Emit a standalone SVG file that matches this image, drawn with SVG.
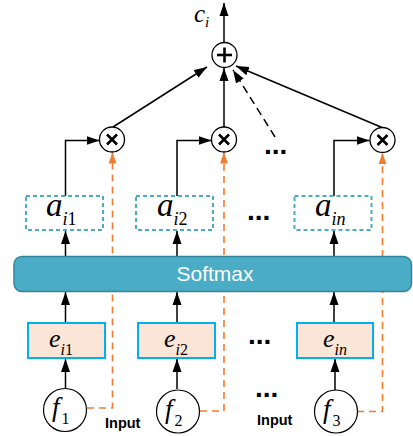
<svg xmlns="http://www.w3.org/2000/svg" width="413" height="436" viewBox="0 0 413 436">
<defs>
<marker id="ah" markerUnits="userSpaceOnUse" markerWidth="14" markerHeight="10" refX="13" refY="5" orient="auto"><path d="M0,0.5 L13,5 L0,9.5 Z" fill="#000"/></marker>
<marker id="oh" markerUnits="userSpaceOnUse" markerWidth="12" markerHeight="10" refX="11" refY="5" orient="auto"><path d="M0,1 L11,5 L0,9 Z" fill="#ED7D31"/></marker>
</defs>
<style>
.ln{fill:none;stroke:#000;stroke-width:1.5}
.dl{fill:none;stroke:#000;stroke-width:1.5;stroke-dasharray:8 5}
.ol{fill:none;stroke:#ED7D31;stroke-width:1.6;stroke-dasharray:7 5}
.op{fill:#fff;stroke:#000;stroke-width:1.3}
.sym{stroke:#000;stroke-width:2.6;stroke-linecap:butt}
.abox{fill:#fff;stroke:#4BACC6;stroke-width:2;stroke-dasharray:4 3}
.ebox{fill:#FBE5D6;stroke:#00B0F0;stroke-width:2}
.fc{fill:#fff;stroke:#000;stroke-width:1.2}
.m{font-family:"Liberation Serif","Times New Roman",serif;fill:#000}
.it{font-style:italic}
.dots{font-family:"Liberation Sans",Arial,sans-serif;font-weight:bold;font-size:28px;fill:#000}
.inp{font-family:"Liberation Sans",Arial,sans-serif;font-weight:bold;font-size:14.5px;fill:#000}
</style>
<g id="connectors">
<line class="ln" x1="224" y1="42" x2="224" y2="3" marker-end="url(#ah)"/>
<line class="ln" x1="113" y1="127" x2="207" y2="67" marker-end="url(#ah)"/>
<line class="ln" x1="224" y1="127" x2="224" y2="68" marker-end="url(#ah)"/>
<line class="ln" x1="382" y1="127.5" x2="236" y2="66" marker-end="url(#ah)"/>
<line class="dl" x1="275" y1="137" x2="233" y2="70" marker-end="url(#ah)"/>
<path class="ln" d="M65.5,196 V140.5 H99.5" marker-end="url(#ah)"/>
<path class="ln" d="M177,196 V140.5 H211.5" marker-end="url(#ah)"/>
<path class="ln" d="M334,196 V140.5 H369.5" marker-end="url(#ah)"/>
<path class="ol" d="M87,408 H112.5 V152.5" marker-end="url(#oh)"/>
<path class="ol" d="M200,411 H224 V152.5" marker-end="url(#oh)"/>
<path class="ol" d="M357,411.5 H382.5 V153" marker-end="url(#oh)"/>
<line class="ln" x1="65.5" y1="256" x2="65.5" y2="231" marker-end="url(#ah)"/>
<line class="ln" x1="177" y1="256" x2="177" y2="231" marker-end="url(#ah)"/>
<line class="ln" x1="334" y1="256" x2="334" y2="231" marker-end="url(#ah)"/>
<line class="ln" x1="65.5" y1="322" x2="65.5" y2="292" marker-end="url(#ah)"/>
<line class="ln" x1="177" y1="322" x2="177" y2="292" marker-end="url(#ah)"/>
<line class="ln" x1="334" y1="322" x2="334" y2="292" marker-end="url(#ah)"/>
<line class="ln" x1="65.5" y1="388" x2="65.5" y2="359" marker-end="url(#ah)"/>
<line class="ln" x1="177" y1="389" x2="177" y2="359" marker-end="url(#ah)"/>
<line class="ln" x1="335" y1="390" x2="335" y2="359" marker-end="url(#ah)"/>
</g>
<g id="output">
<text class="m it" x="194" y="22" font-size="25">c<tspan font-size="15" dy="5">i</tspan></text>
</g>
<g id="sum">
<circle class="op" cx="224.5" cy="55" r="12.5"/>
<line class="sym" x1="217" y1="55" x2="232" y2="55"/>
<line class="sym" x1="224.5" y1="47.5" x2="224.5" y2="62.5"/>
</g>
<g id="mul1">
<circle class="op" cx="112" cy="139.5" r="12.5"/>
<path class="sym" d="M107,134.5 L117,144.5 M117,134.5 L107,144.5"/>
</g>
<g id="mul2">
<circle class="op" cx="224" cy="139.5" r="12.5"/>
<path class="sym" d="M219,134.5 L229,144.5 M229,134.5 L219,144.5"/>
</g>
<g id="mul3">
<circle class="op" cx="382.5" cy="140" r="12.5"/>
<path class="sym" d="M377.5,135 L387.5,145 M387.5,135 L377.5,145"/>
</g>
<g id="dots">
<text class="dots" x="264" y="154">...</text>
<text class="dots" x="247" y="220">...</text>
<text class="dots" x="248" y="344">...</text>
<text class="dots" x="255" y="397">...</text>
</g>
<g id="a1">
<rect class="abox" x="26" y="196" width="77" height="34"/>
<text class="m" x="46" y="216" font-size="33"><tspan class="it">a</tspan><tspan font-size="18" dy="9" class="it">i</tspan><tspan font-size="18">1</tspan></text>
</g>
<g id="a2">
<rect class="abox" x="136" y="196" width="77" height="34"/>
<text class="m" x="157" y="216" font-size="33"><tspan class="it">a</tspan><tspan font-size="18" dy="9" class="it">i</tspan><tspan font-size="18">2</tspan></text>
</g>
<g id="a3">
<rect class="abox" x="294.5" y="196" width="77" height="34"/>
<text class="m" x="315" y="216" font-size="33"><tspan class="it">a</tspan><tspan font-size="18" dy="9" class="it">in</tspan></text>
</g>
<g id="softmax">
<rect x="14" y="256.5" width="397.5" height="35" rx="8" ry="8" fill="#4BACC6" stroke="#31859C" stroke-width="1.5"/>
<text x="215" y="281" font-family="'Liberation Sans',Arial,sans-serif" font-size="21" fill="#fff" text-anchor="middle">Softmax</text>
</g>
<g id="e1">
<rect class="ebox" x="28" y="323" width="77" height="35"/>
<text class="m" x="49" y="347" font-size="26"><tspan class="it">e</tspan><tspan font-size="16" dy="8" class="it">i</tspan><tspan font-size="16">1</tspan></text>
</g>
<g id="e2">
<rect class="ebox" x="138" y="323" width="77" height="35"/>
<text class="m" x="164" y="347" font-size="26"><tspan class="it">e</tspan><tspan font-size="16" dy="8" class="it">i</tspan><tspan font-size="16">2</tspan></text>
</g>
<g id="e3">
<rect class="ebox" x="297" y="323" width="76" height="35"/>
<text class="m" x="323" y="347" font-size="26"><tspan class="it">e</tspan><tspan font-size="16" dy="8" class="it">in</tspan></text>
</g>
<g id="f1">
<circle class="fc" cx="65" cy="410" r="21.5"/>
<text class="m" x="52" y="416" font-size="27"><tspan class="it">f</tspan><tspan font-size="16" dy="8" dx="2">1</tspan></text>
</g>
<g id="f2">
<circle class="fc" cx="178" cy="411.5" r="21.5"/>
<text class="m" x="165" y="418" font-size="27"><tspan class="it">f</tspan><tspan font-size="16" dy="8" dx="2">2</tspan></text>
</g>
<g id="f3">
<circle class="fc" cx="336" cy="411.5" r="21.5"/>
<text class="m" x="323" y="418" font-size="27"><tspan class="it">f</tspan><tspan font-size="16" dy="8" dx="2">3</tspan></text>
</g>
<g id="labels">
<text class="inp" x="105" y="428">Input</text>
<text class="inp" x="257" y="425">Input</text>
</g>
</svg>
